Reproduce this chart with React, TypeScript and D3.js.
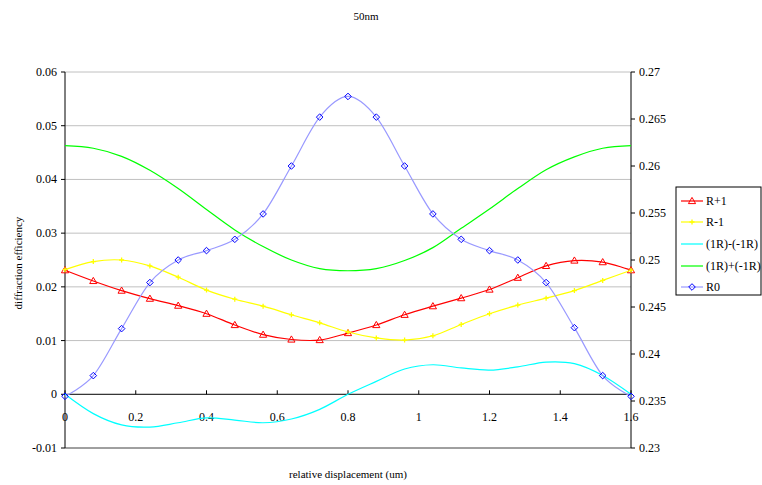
import React from 'react';
import * as d3 from 'd3';

// relative displacement (um) at each sample
const displacement = [0, 0.08, 0.16, 0.24, 0.32, 0.4, 0.48, 0.56, 0.64, 0.72, 0.8, 0.88, 0.96, 1.04, 1.12, 1.2, 1.28, 1.36, 1.44, 1.52, 1.6];

// left-axis series
const rPlus1 = [0.0231, 0.0211, 0.0193, 0.0178, 0.0165, 0.015, 0.0129, 0.0111, 0.0102, 0.0101, 0.0114, 0.0129, 0.0148, 0.0164, 0.0179, 0.0195, 0.0217, 0.0239, 0.0249, 0.0246, 0.0231];
const rMinus1 = [0.0232, 0.0247, 0.025, 0.0239, 0.0218, 0.0194, 0.0177, 0.0164, 0.0148, 0.0133, 0.0116, 0.0105, 0.0101, 0.0109, 0.013, 0.015, 0.0166, 0.0179, 0.0193, 0.0212, 0.0231];
const diffSeries = [0, -0.0036, -0.0057, -0.0061, -0.0053, -0.0044, -0.0048, -0.0053, -0.0046, -0.0028, 0, 0.0024, 0.0047, 0.0055, 0.0049, 0.0045, 0.0051, 0.006, 0.0057, 0.0035, 0];
const sumSeries = [0.0463, 0.0458, 0.0443, 0.0417, 0.0383, 0.0344, 0.0306, 0.0275, 0.025, 0.0234, 0.023, 0.0234, 0.0249, 0.0273, 0.0309, 0.0345, 0.0383, 0.0418, 0.0442, 0.0458, 0.0463];

// right-axis series
const r0 = [0.2355, 0.2377, 0.2427, 0.2476, 0.25, 0.251, 0.2522, 0.2549, 0.26, 0.2652, 0.2674, 0.2652, 0.26, 0.2549, 0.2522, 0.251, 0.25, 0.2476, 0.2428, 0.2377, 0.2355];

const leftTicks = [-0.01, 0, 0.01, 0.02, 0.03, 0.04, 0.05, 0.06];
const leftTickLabels = ['-0.01', '0', '0.01', '0.02', '0.03', '0.04', '0.05', '0.06'];
const rightTicks = [0.23, 0.235, 0.24, 0.245, 0.25, 0.255, 0.26, 0.265, 0.27];
const rightTickLabels = ['0.23', '0.235', '0.24', '0.245', '0.25', '0.255', '0.26', '0.265', '0.27'];
const xTicks = [0, 0.2, 0.4, 0.6, 0.8, 1.0, 1.2, 1.4, 1.6];
const xTickLabels = ['0', '0.2', '0.4', '0.6', '0.8', '1', '1.2', '1.4', '1.6'];

const legendNames = ['R+1', 'R-1', '(1R)-(-1R)', '(1R)+(-1R)', 'R0'];

const W = 762;
const H = 485;
const plotLeft = 65;
const plotRight = 631;
const plotTop = 72;
const plotBottom = 448;
const font = '"Liberation Serif", "Times New Roman", serif';

const x = d3.scaleLinear().domain([0, 1.6]).range([plotLeft, plotRight]);
const yL = d3.scaleLinear().domain([-0.01, 0.06]).range([plotBottom, plotTop]);
const yR = d3.scaleLinear().domain([0.23, 0.27]).range([plotBottom, plotTop]);

const curve = d3.curveCardinal.tension(0);

function linePath(vals: number[], y: d3.ScaleLinear<number, number>) {
  return d3
    .line<number>()
    .x((_, i) => x(displacement[i]))
    .y((v) => y(v))
    .curve(curve)(vals) as string;
}

const triangle = (cx: number, cy: number) =>
  `M${cx},${cy - 3.6}L${cx + 3.6},${cy + 2.6}L${cx - 3.6},${cy + 2.6}Z`;
const diamond = (cx: number, cy: number) =>
  `M${cx},${cy - 3.3}L${cx + 3.3},${cy}L${cx},${cy + 3.3}L${cx - 3.3},${cy}Z`;
const plus = (cx: number, cy: number) =>
  `M${cx - 2.5},${cy}L${cx + 2.5},${cy}M${cx},${cy - 2.5}L${cx},${cy + 2.5}`;

const RED = '#ff0000';
const YELLOW = '#ffff00';
const CYAN = '#00ffff';
const GREEN = '#00ff00';
const LAVENDER = '#9999ff';
const BLUE = '#0000ff';

const txt: React.CSSProperties = { fontFamily: font };

export default function App() {
  const legendX = 676;
  const legendY = 187;
  const legendRows = [201, 222, 244, 266, 287];
  const legendColors = [RED, YELLOW, CYAN, GREEN, LAVENDER];

  return (
    <svg
      width={W}
      height={H}
      style={{ position: 'absolute', left: 0, top: 0, background: '#fff', fontFamily: font }}
    >
      <rect x={0} y={0} width={W} height={H} fill="#fff" />

      {/* title */}
      <text style={txt} x={366} y={16} fontSize={11} textAnchor="middle" dominantBaseline="central">
        50nm
      </text>

      {/* horizontal gridlines */}
      {leftTicks
        .filter((t) => t > 0)
        .map((t) => (
          <line key={t} x1={plotLeft} x2={plotRight} y1={yL(t)} y2={yL(t)} stroke="#c0c0c0" strokeWidth={1} />
        ))}
      <line x1={plotLeft} x2={plotRight} y1={plotBottom} y2={plotBottom} stroke="#404040" strokeWidth={1} />

      {/* left axis */}
      <line x1={plotLeft} x2={plotLeft} y1={plotTop} y2={plotBottom} stroke="#000" strokeWidth={1} />
      {leftTicks.map((t, i) => (
        <g key={t}>
          <line x1={plotLeft - 4} x2={plotLeft} y1={yL(t)} y2={yL(t)} stroke="#000" />
          <text style={txt} x={57} y={yL(t)} fontSize={12} textAnchor="end" dominantBaseline="central">
            {leftTickLabels[i]}
          </text>
        </g>
      ))}

      {/* right axis */}
      <line x1={plotRight} x2={plotRight} y1={plotTop} y2={plotBottom} stroke="#000" strokeWidth={1} />
      {rightTicks.map((t, i) => (
        <g key={t}>
          <line x1={plotRight} x2={plotRight + 4} y1={yR(t)} y2={yR(t)} stroke="#000" />
          <text style={txt} x={639} y={yR(t)} fontSize={12} textAnchor="start" dominantBaseline="central">
            {rightTickLabels[i]}
          </text>
        </g>
      ))}

      {/* category axis at zero */}
      <line x1={plotLeft} x2={plotRight} y1={yL(0)} y2={yL(0)} stroke="#000" strokeWidth={1} />
      {xTicks.map((t, i) => (
        <g key={t}>
          <line x1={x(t)} x2={x(t)} y1={yL(0) - 4} y2={yL(0)} stroke="#000" />
          <text style={txt} x={x(t)} y={417} fontSize={12} textAnchor="middle" dominantBaseline="central">
            {xTickLabels[i]}
          </text>
        </g>
      ))}

      {/* axis titles */}
      <text style={txt} x={348} y={474} fontSize={11} textAnchor="middle" dominantBaseline="central">
        relative displacement (um)
      </text>
      <text
        style={txt}
        transform={`translate(18,263) rotate(-90)`}
        fontSize={11}
        textAnchor="middle"
        dominantBaseline="central"
      >
        diffraction efficiency
      </text>

      {/* series */}
      <path d={linePath(rPlus1, yL)} fill="none" stroke={RED} strokeWidth={1.2} />
      {rPlus1.map((v, i) => (
        <path key={i} d={triangle(x(displacement[i]), yL(v))} fill="none" stroke={RED} strokeWidth={1} />
      ))}

      <path d={linePath(rMinus1, yL)} fill="none" stroke={YELLOW} strokeWidth={1.2} />
      {rMinus1.map((v, i) => (
        <path key={i} d={plus(x(displacement[i]), yL(v))} fill="none" stroke={YELLOW} strokeWidth={1.3} />
      ))}

      <path d={linePath(diffSeries, yL)} fill="none" stroke={CYAN} strokeWidth={1.2} />
      <path d={linePath(sumSeries, yL)} fill="none" stroke={GREEN} strokeWidth={1.2} />

      <path d={linePath(r0, yR)} fill="none" stroke={LAVENDER} strokeWidth={1.2} />
      {r0.map((v, i) => (
        <path key={i} d={diamond(x(displacement[i]), yR(v))} fill="none" stroke={BLUE} strokeWidth={1} />
      ))}

      {/* legend */}
      <rect x={legendX} y={legendY} width={85} height={108} fill="#fff" stroke="#000" strokeWidth={1} />
      {legendNames.map((name, i) => {
        const cy = legendRows[i];
        return (
          <g key={name}>
            <line x1={681} x2={703} y1={cy} y2={cy} stroke={legendColors[i]} strokeWidth={1.2} />
            {i === 0 && <path d={triangle(692, cy)} fill="none" stroke={RED} strokeWidth={1} />}
            {i === 1 && <path d={plus(692, cy)} fill="none" stroke={YELLOW} strokeWidth={1.3} />}
            {i === 4 && <path d={diamond(692, cy)} fill="none" stroke={BLUE} strokeWidth={1} />}
            <text style={txt} x={706} y={cy} fontSize={12} dominantBaseline="central">
              {name}
            </text>
          </g>
        );
      })}
    </svg>
  );
}
